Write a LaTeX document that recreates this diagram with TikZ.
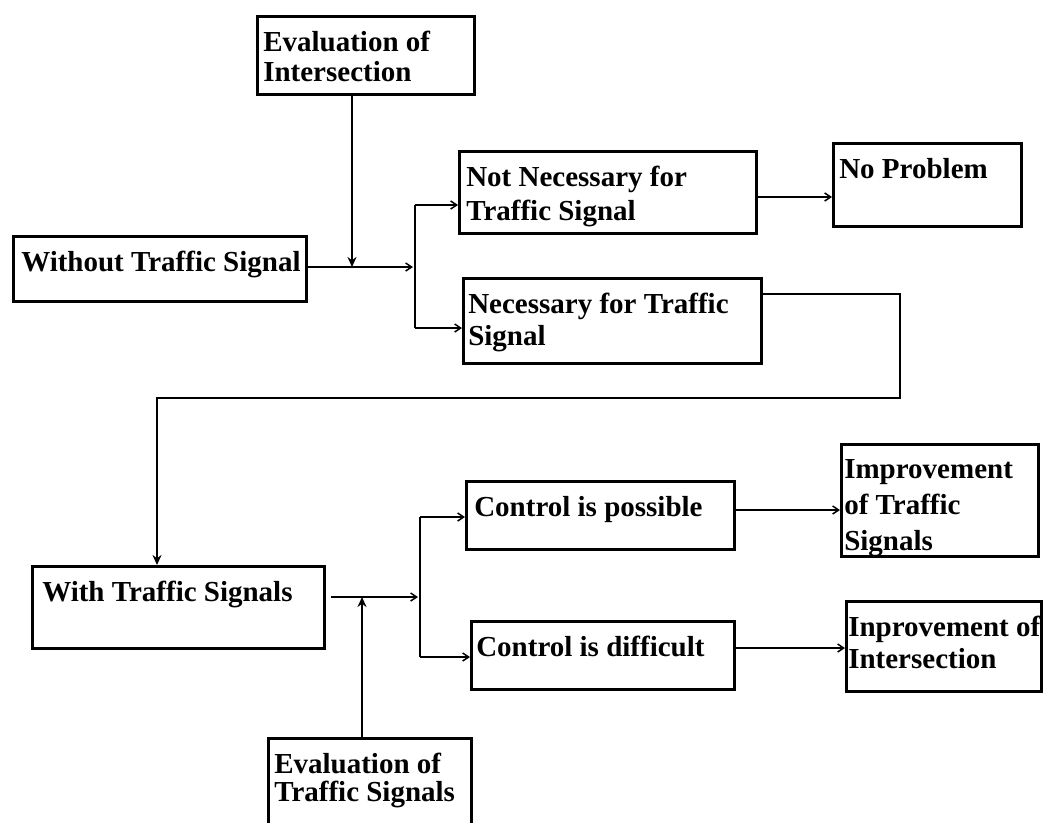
\documentclass[tikz,border=0pt]{standalone}
\usepackage{fontspec}
\setmainfont{Liberation Serif}
\usetikzlibrary{arrows.meta}
\tikzset{
  x=1pt, y=-1pt,
  box/.style={draw=black, line width=2.6pt, inner sep=0pt, anchor=north west},
  conn/.style={line width=1.6pt},
  arr/.style={conn, -{Straight Barb[length=6pt,width=8pt,line width=1.5pt]}},
  varr/.style={line width=2.8pt, -{Stealth[length=10pt,width=9pt]}},
  thick bar/.style={line width=2.8pt},
}
% name, x, y, w, h, left pad, baselineskip, text
\newcommand\mkbox[8]{\node[box] (#1) at (#2,#3) {\parbox[t][#5pt][t]{#4pt}{\fontsize{29}{#7}\bfseries\selectfont\raggedright\leftskip=#6pt\relax\vspace*{15pt}#8\par}};}
\begin{document}
\begin{tikzpicture}
\useasboundingbox (0,0) rectangle (1044,822);
\clip (0,0) rectangle (1044,822);
\fill[white] (0,0) rectangle (1044,822);

\mkbox{evi}{256}{15}{217}{78}{6}{30}{Evaluation of\\Intersection}
\mkbox{wo}{12}{235}{293}{65}{8}{32}{Without Traffic Signal}
\mkbox{nn}{458}{150}{297}{82}{7}{34}{Not Necessary for\\Traffic Signal}
\mkbox{np}{832}{142}{188}{83}{6}{32}{No Problem}
\mkbox{ne}{462}{277}{298}{85}{5}{32}{Necessary for Traffic\\Signal}
\mkbox{wt}{31}{565}{292}{82}{10}{32}{With Traffic Signals}
\mkbox{cp}{465}{480}{268}{68}{8}{32}{Control is possible}
\mkbox{its}{840}{443}{197}{112}{3}{36}{Improvement\\of Traffic\\Signals}
\mkbox{cd}{470}{620}{263}{68}{5}{32}{Control is difficult}
\mkbox{ii}{845}{600}{195}{90}{2}{32}{Inprovement of\\Intersection}
\mkbox{evt}{267}{737}{203}{110}{6}{28}{Evaluation of\\Traffic Signals}

% upper part
\coordinate (j1) at (352,267);
\coordinate (b1) at (413,267);
\coordinate (b1t) at (415,205);
\coordinate (b1b) at (415,328);
\draw[arr] (wo.east |- b1) -- (b1);
\draw[varr] (j1 |- evi.south) -- (j1);
\draw[thick bar] (b1t) -- (b1b);
\draw[arr] (b1t) -- (b1t -| nn.west);
\draw[arr] (b1b) -- (b1b -| ne.west);
\coordinate (c1) at (790,197);
\draw[arr] (nn.east |- c1) -- (c1 -| np.west);

% long connector
\coordinate (r1) at (900,294);
\coordinate (r2) at (157,398);
\draw[line width=2.4pt, -{Stealth[length=10pt,width=9pt]}] (ne.east |- r1) -- (r1) |- (r2) -- (r2 |- wt.north);

% lower part
\coordinate (j2) at (362,597);
\coordinate (b2) at (418,597);
\coordinate (b2t) at (420,517);
\coordinate (b2b) at (420,657);
\draw[arr] (wt.east |- b2) ++(5,0) -- (b2);
\draw[varr] (j2 |- evt.north) -- (j2);
\draw[thick bar] (b2t) -- (b2b);
\draw[arr] (b2t) -- (b2t -| cp.west);
\draw[arr] (b2b) -- (b2b -| cd.west);
\coordinate (c2) at (790,510);
\draw[arr] (cp.east |- c2) -- (c2 -| its.west);
\coordinate (c3) at (790,648);
\draw[arr] (cd.east |- c3) -- (c3 -| ii.west);
\end{tikzpicture}
\end{document}
